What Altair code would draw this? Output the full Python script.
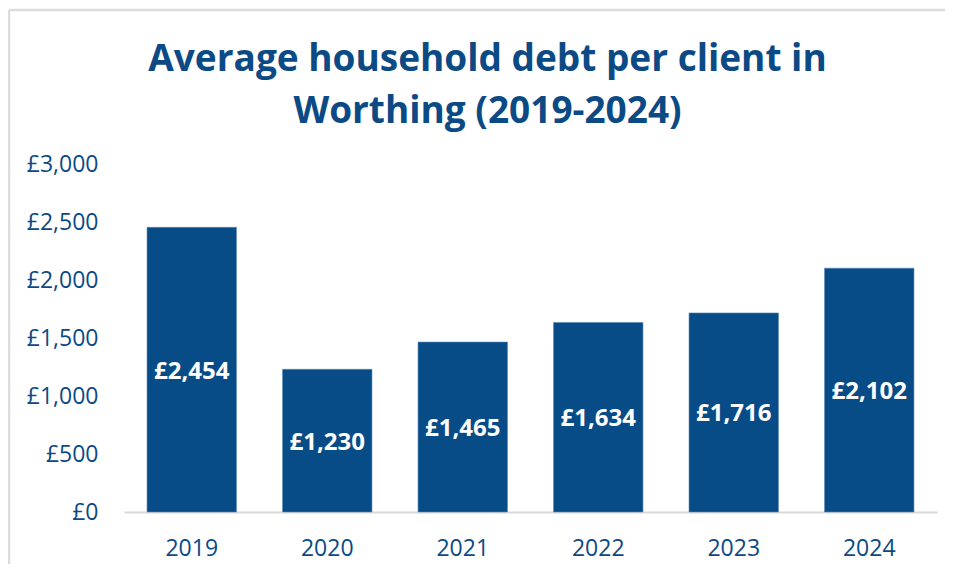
import altair as alt
import pandas as pd

years = ["2019", "2020", "2021", "2022", "2023", "2024"]
debt = [2454, 1230, 1465, 1634, 1716, 2102]
y_ticks = [0, 500, 1000, 1500, 2000, 2500, 3000]

df = pd.DataFrame({"year": years, "debt": debt})

TEXT = "#0B4A85"
BAR = "#074B87"
FONT = "Open Sans"

base = alt.Chart(df)

bars = base.mark_bar(color=BAR, stroke="#5b86b3", strokeWidth=0.6).encode(
    x=alt.X(
        "year:N",
        sort=years,
        title=None,
        scale=alt.Scale(paddingInner=0.34, paddingOuter=0.17),
        axis=alt.Axis(
            labelAngle=0,
            ticks=False,
            domainColor="#d9d9d9",
            domainWidth=2,
            labelPadding=25,
            labelFontSize=23,
            labelColor=TEXT,
            labelFont=FONT,
            grid=False,
        ),
    ),
    y=alt.Y(
        "debt:Q",
        title=None,
        scale=alt.Scale(domain=[0, 3000]),
        axis=alt.Axis(
            values=y_ticks,
            labelExpr="'£' + format(datum.value, ',')",
            ticks=False,
            domain=False,
            grid=False,
            labelPadding=26,
            labelFontSize=23,
            labelColor=TEXT,
            labelFont=FONT,
        ),
    ),
)

labels = base.transform_calculate(
    mid="datum.debt / 2",
    lab="'£' + format(datum.debt, ',')",
).mark_text(
    color="white", font=FONT, fontWeight="bold", fontSize=24, baseline="middle", dy=2
).encode(
    x=alt.X("year:N", sort=years),
    y=alt.Y("mid:Q"),
    text="lab:N",
)

frame_data = alt.Data(values=[{"k": 1}])
top_border = alt.Chart(frame_data).mark_rule(color="#dcdcdc", strokeWidth=2.5).encode(
    x=alt.value(-115), x2=alt.value(830), y=alt.value(-154)
)
left_border = alt.Chart(frame_data).mark_rule(color="#dcdcdc", strokeWidth=2.5).encode(
    x=alt.value(-115), y=alt.value(-154), y2=alt.value(420)
)

chart = alt.layer(top_border, left_border, bars, labels).properties(
    width=813,
    height=348,
    padding={"left": 116, "top": 156, "right": 8, "bottom": 52},
    autosize=alt.AutoSizeParams(type="none"),
    title=alt.TitleParams(
        text=["Average household debt per client in", "Worthing (2019-2024)"],
        font=FONT,
        fontSize=37,
        fontWeight="bold",
        color=TEXT,
        anchor="middle",
        lineHeight=52,
        offset=-122,
        dx=-43,
    ),
).configure(background="white").configure_view(stroke=None, strokeWidth=0)

chart.save("out.html", embed_options={"renderer": "svg", "actions": False})
